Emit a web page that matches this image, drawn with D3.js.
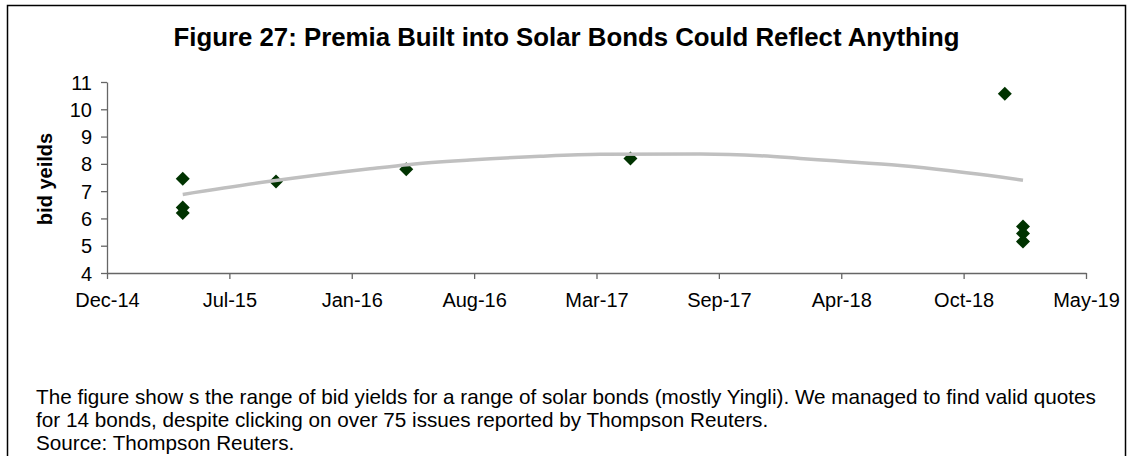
<!DOCTYPE html>
<html>
<head>
<meta charset="utf-8">
<script src="https://cdn.jsdelivr.net/npm/d3@7"></script>
<style>
  body { margin: 0; background: #fff; }
  text { font-family: "Liberation Sans", Arial, sans-serif; fill: #000; }
</style>
</head>
<body>
<div id="chart"></div>
<script>
let width = 1133;
let height = 456;
let margin = ({top: 82, right: 47, bottom: 183, left: 107});

// bond quotes (date, bid yield)
let bondDates = ["2015-04-19", "2015-04-19", "2015-04-19", "2015-09-20", "2016-04-22",
                 "2017-04-27", "2019-01-05", "2019-02-04", "2019-02-04", "2019-02-04"];
let bondYields = [7.45, 6.4, 6.2, 7.35, 7.8, 8.2, 10.57, 5.7, 5.45, 5.15];

// trendline
let trendDates = ["2015-04-19", "2015-09-10", "2016-02-22", "2016-04-28", "2016-08-05",
                  "2016-11-29", "2017-03-08", "2017-08-20", "2017-11-27", "2018-02-01",
                  "2018-03-23", "2018-07-16", "2018-10-07", "2018-12-29", "2019-02-04"];
let trendValues = [6.88, 7.36, 7.82, 7.98, 8.14, 8.28, 8.35, 8.36, 8.3, 8.2,
                   8.12, 7.94, 7.75, 7.52, 7.4];

// axis ticks
let xTickDates = ["2014-12-15", "2015-07-05", "2016-01-23", "2016-08-12", "2017-03-02",
                  "2017-09-20", "2018-04-10", "2018-10-29", "2019-05-19"];
let xTickLabels = ["Dec-14", "Jul-15", "Jan-16", "Aug-16", "Mar-17", "Sep-17", "Apr-18", "Oct-18", "May-19"];
let yTicks = [4, 5, 6, 7, 8, 9, 10, 11];

let titleText = "Figure 27: Premia Built into Solar Bonds Could Reflect Anything";
let yLabel = "bid yeilds";
let notes = [
    "The figure show s the range of bid yields for a range of solar bonds (mostly Yingli). We managed to find valid quotes",
    "for 14 bonds, despite clicking on over 75 issues reported by Thompson Reuters.",
    "Source: Thompson Reuters."
];

let parse = d3.utcParse("%Y-%m-%d");

let svg = d3.select("#chart")
    .append("svg")
    .attr("width", width)
    .attr("height", height);

// outer frame (bottom edge runs off the picture)
svg.append("rect")
    .attr("x", 7.5).attr("y", 5.5)
    .attr("width", 1118).attr("height", 460)
    .attr("fill", "#fff")
    .attr("stroke", "#000")
    .attr("stroke-width", 1.5);

let xScale = d3.scaleUtc()
    .domain([parse(xTickDates[0]), parse(xTickDates[xTickDates.length - 1])])
    .range([margin.left, width - margin.right]);

let yScale = d3.scaleLinear()
    .domain([4, 11])
    .range([height - margin.bottom, margin.top]);

// title
svg.append("text")
    .attr("x", width / 2)
    .attr("y", 46)
    .attr("text-anchor", "middle")
    .style("font-size", "25.8px")
    .style("font-weight", "bold")
    .text(titleText);

// axes
let xAxis = d3.axisBottom(xScale)
    .tickValues(xTickDates.map(parse))
    .tickFormat((d, i) => xTickLabels[i])
    .tickSize(6)
    .tickSizeOuter(0);

let yAxis = d3.axisLeft(yScale)
    .tickValues(yTicks)
    .tickFormat(d3.format("d"))
    .tickSize(6)
    .tickSizeOuter(0);

let gx = svg.append("g")
    .attr("transform", "translate(0," + (height - margin.bottom) + ")")
    .call(xAxis);

let gy = svg.append("g")
    .attr("transform", "translate(" + margin.left + ",0)")
    .call(yAxis);

[gx, gy].forEach(function(g) {
    g.select(".domain").attr("stroke", "#666").attr("stroke-width", 1.3);
    g.selectAll(".tick line").attr("stroke", "#666").attr("stroke-width", 1.3);
    g.selectAll(".tick text")
        .style("font-family", "'Liberation Sans', Arial, sans-serif")
        .style("font-size", "20px")
        .attr("fill", "#000");
});
gx.selectAll(".tick text").attr("dy", null).attr("y", 34);
gy.selectAll(".tick text").attr("x", -15).attr("dy", "0.35em");

// y label
svg.append("text")
    .attr("transform", "translate(52,179) rotate(-90)")
    .attr("text-anchor", "middle")
    .style("font-size", "20px")
    .style("font-weight", "bold")
    .text(yLabel);

// markers
let bonds = bondDates.map((d, i) => ({date: parse(d), value: bondYields[i]}));

svg.selectAll(".bond")
    .data(bonds)
    .enter()
    .append("path")
    .attr("class", "bond")
    .attr("d", d3.symbol().type(d3.symbolSquare).size(98))
    .attr("transform", d => "translate(" + xScale(d.date) + "," + yScale(d.value) + ") rotate(45)")
    .attr("fill", "#003300");

// trendline
let trend = trendDates.map((d, i) => ({date: parse(d), value: trendValues[i]}));

svg.append("path")
    .datum(trend)
    .attr("fill", "none")
    .attr("stroke", "#c0c0c0")
    .attr("stroke-width", 3.5)
    .attr("d", d3.line()
        .x(d => xScale(d.date))
        .y(d => yScale(d.value))
        .curve(d3.curveMonotoneX));

// notes under the chart
svg.selectAll(".note")
    .data(notes)
    .enter()
    .append("text")
    .attr("class", "note")
    .attr("x", 36)
    .attr("y", (d, i) => 404 + i * 23)
    .style("font-size", "20.7px")
    .text(d => d);
</script>
</body>
</html>
